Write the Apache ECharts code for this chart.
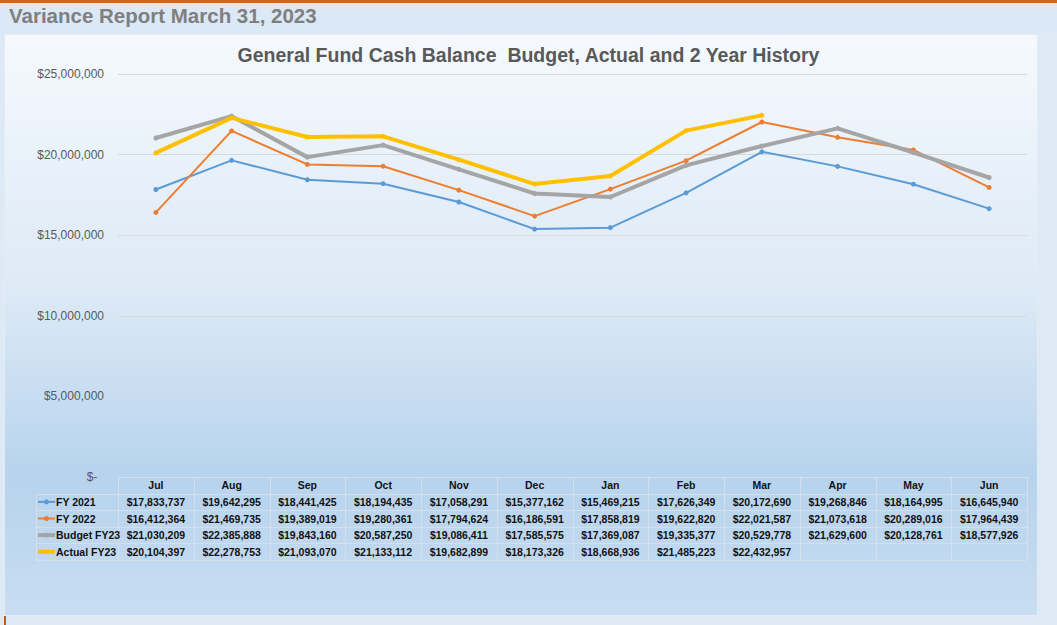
<!DOCTYPE html>
<html>
<head>
<meta charset="utf-8">
<script src="https://cdn.jsdelivr.net/npm/echarts@6/dist/echarts.min.js"></script>
<style>
  html, body { margin: 0; padding: 0; }
  body { width: 1057px; height: 625px; background: #dde9f5; position: relative; overflow: hidden; }
  #topline { position: absolute; left: 0; top: 0; width: 1057px; height: 3px; background: #d0661e; }
  #band { position: absolute; left: 0; top: 3px; width: 1057px; height: 30px; background: #dbe8f5; }
  #box { position: absolute; left: 4px; top: 34px; width: 1034px; height: 582px;
         background: linear-gradient(to bottom, #f5f9fd 0%, #dce9f6 45%, #b7d3ed 76%, #c8ddf1 100%);
         border: 1px solid #e3ebf3; box-sizing: border-box; }
  #mark { position: absolute; left: 4px; top: 616px; width: 2px; height: 9px; background: #c55a11; }
  #chart { position: absolute; left: 0; top: 0; width: 1057px; height: 625px; }
</style>
</head>
<body>
<div id="topline"></div>
<div id="band"></div>
<div id="box"></div>
<div id="mark"></div>
<div id="chart"></div>
<script>
(function() {
  var months = ['Jul', 'Aug', 'Sep', 'Oct', 'Nov', 'Dec', 'Jan', 'Feb', 'Mar', 'Apr', 'May', 'Jun'];
  var fy2021 = [17833737, 19642295, 18441425, 18194435, 17058291, 15377162, 15469215, 17626349, 20172690, 19268846, 18164995, 16645940];
  var fy2022 = [16412364, 21469735, 19389019, 19280361, 17794624, 16186591, 17858819, 19622820, 22021587, 21073618, 20289016, 17964439];
  var budget23 = [21030209, 22385888, 19843160, 20587250, 19086411, 17585575, 17369087, 19335377, 20529778, 21629600, 20128761, 18577926];
  var actual23 = [20104397, 22278753, 21093070, 21133112, 19682899, 18173326, 18668936, 21485223, 22432957, null, null, null];
  var seriesNames = ['FY 2021', 'FY 2022', 'Budget FY23', 'Actual FY23'];
  var seriesData = [fy2021, fy2022, budget23, actual23];
  var colors = ['#5b9bd5', '#ed7d31', '#a5a5a5', '#ffc000'];
  var widths = [2, 2, 4, 4];

  var font = '"Liberation Sans", Arial, sans-serif';
  var border = '#d3dfeb';
  var rowH = 16.6;
  var gridLeft = 118, gridRight = 30, gridTop = 74, gridBottom = 148;

  function money(v) {
    if (v == null) return ' ';
    return '$' + v.toLocaleString('en-US');
  }

  var chart = echarts.init(document.getElementById('chart'), null, { renderer: 'svg' });

  var series = seriesNames.map(function(name, i) {
    return {
      name: name,
      type: 'line',
      data: seriesData[i],
      symbol: 'circle',
      symbolSize: 5,
      showSymbol: true,
      lineStyle: { color: colors[i], width: widths[i] },
      itemStyle: { color: colors[i] },
      z: 2 + i
    };
  });

  chart.setOption({
    animation: false,
    backgroundColor: 'transparent',
    title: [{
      text: 'Variance Report March 31, 2023',
      left: 4, top: 0,
      textStyle: { color: '#7f7f7f', fontSize: 20.5, fontWeight: 'bold', fontFamily: font }
    }, {
      text: 'General Fund Cash Balance  Budget, Actual and 2 Year History',
      left: 'center', top: 40,
      textStyle: { color: '#595959', fontSize: 19.5, fontWeight: 'bold', fontFamily: font }
    }],
    grid: { left: gridLeft, right: gridRight, top: gridTop, bottom: gridBottom },
    xAxis: {
      type: 'category',
      data: months,
      boundaryGap: true,
      axisLine: { show: false },
      axisTick: { show: false },
      axisLabel: {
        margin: 0,
        interval: 0,
        verticalAlign: 'top',
        formatter: function(value, index) {
          var lines = ['{m|' + value + '}'];
          seriesData.forEach(function(d) { lines.push('{v|' + money(d[index]) + '}'); });
          return lines.join('\n');
        },
        rich: {
          m: { fontFamily: font, fontSize: 10.5, fontWeight: 'bold', color: '#111', lineHeight: rowH, height: rowH },
          v: { fontFamily: font, fontSize: 10.5, fontWeight: 'bold', color: '#111', lineHeight: rowH, height: rowH }
        }
      }
    },
    yAxis: {
      type: 'value',
      min: 0,
      max: 25000000,
      interval: 5000000,
      axisLine: { show: false },
      axisTick: { show: false },
      splitLine: { lineStyle: { color: '#d9d9d9', width: 1 } },
      axisLabel: {
        margin: 14,
        color: '#595959',
        fontSize: 12,
        fontFamily: font,
        formatter: function(v) { return v === 0 ? '$-  ' : money(v); }
      }
    },
    series: series
  });

  // data table grid + legend keys, placed from the axes
  var x0 = chart.convertToPixel({ xAxisIndex: 0 }, 0);
  var x1 = chart.convertToPixel({ xAxisIndex: 0 }, 1);
  var bw = x1 - x0;
  var left = x0 - bw / 2;
  var right = left + bw * months.length;
  var top = chart.convertToPixel({ yAxisIndex: 0 }, 0);
  var keyLeft = 36;
  var bottom = top + rowH * (seriesNames.length + 1);
  var els = [];

  for (var r = 0; r <= seriesNames.length + 1; r++) {
    var y = Math.round(top + r * rowH) + 0.5;
    els.push({ type: 'line', shape: { x1: r === 0 ? left : keyLeft, y1: y, x2: right, y2: y }, style: { stroke: border, lineWidth: 1 }, silent: true });
  }
  for (var c = 0; c <= months.length; c++) {
    var x = Math.round(left + c * bw) + 0.5;
    els.push({ type: 'line', shape: { x1: x, y1: top, x2: x, y2: bottom }, style: { stroke: border, lineWidth: 1 }, silent: true });
  }
  els.push({ type: 'line', shape: { x1: keyLeft + 0.5, y1: top + rowH, x2: keyLeft + 0.5, y2: bottom }, style: { stroke: border, lineWidth: 1 }, silent: true });

  seriesNames.forEach(function(name, i) {
    var cy = top + (i + 1.5) * rowH;
    els.push({ type: 'line', shape: { x1: keyLeft + 2, y1: cy, x2: keyLeft + 19, y2: cy }, style: { stroke: colors[i], lineWidth: widths[i] }, silent: true });
    els.push({ type: 'circle', shape: { cx: keyLeft + 10.5, cy: cy, r: 2.5 }, style: { fill: colors[i] }, silent: true });
    els.push({ type: 'text', x: keyLeft + 20, y: cy, style: { text: name, fill: '#111', font: 'bold 10.5px ' + font, verticalAlign: 'middle', align: 'left' }, silent: true });
  });

  chart.setOption({ graphic: els });
  window.addEventListener('resize', function() { chart.resize(); });
})();
</script>
</body>
</html>
